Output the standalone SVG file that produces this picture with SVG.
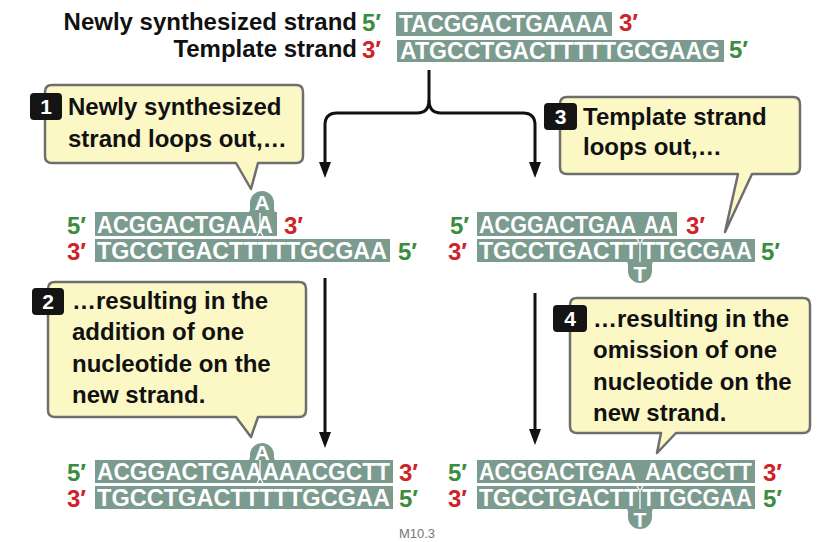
<svg xmlns="http://www.w3.org/2000/svg" width="824" height="542" viewBox="0 0 824 542">
<defs>
<style>
text{font-family:"Liberation Sans",Arial,sans-serif;font-weight:bold}
.lbl{font-size:24px;fill:#111}
.dna{font-size:24px;fill:#fff}
.loop{font-size:21px;fill:#fff;text-anchor:middle}
.r{font-size:24px;fill:#cf2329}
.g{font-size:24px;fill:#3a8d3c}
.box{fill:#7b9b8e}
.call{fill:#fcf8c6;stroke:#6e6e6e;stroke-width:2.5;stroke-linejoin:round}
.badge{fill:#141414}
.num{font-size:21px;fill:#fff;text-anchor:middle}
.arr{stroke:#111;stroke-width:3;fill:none;stroke-linejoin:round}
.dv{stroke:#fff;stroke-width:1.3;fill:none}
.foot{font-family:"Liberation Sans",Arial,sans-serif;font-weight:normal;font-size:13px;fill:#777}
</style>
<marker id="ah" viewBox="0 0 16 12" refX="4" refY="6" markerWidth="16" markerHeight="12" markerUnits="userSpaceOnUse" orient="auto">
<path d="M0,0 L16,6 L0,12 Z" fill="#111"/>
</marker>
</defs>

<g id="original">
<text class="lbl" x="357" y="30" text-anchor="end">Newly synthesized strand</text>
<text class="g" x="362" y="31">5′</text>
<rect class="box" x="396" y="12" width="216" height="24"/>
<text class="dna" x="399" y="32" textLength="209" lengthAdjust="spacingAndGlyphs">TACGGACTGAAAA</text>
<text class="r" x="619" y="31">3′</text>
<text class="lbl" x="357" y="57" text-anchor="end">Template strand</text>
<text class="r" x="362" y="58">3′</text>
<rect class="box" x="397" y="40" width="327" height="22"/>
<text class="dna" x="400" y="59" textLength="320" lengthAdjust="spacingAndGlyphs">ATGCCTGACTTTTTGCGAAG</text>
<text class="g" x="729" y="58">5′</text>
</g>

<g id="connectors">
<path class="arr" d="M429,70 V100 Q429,113 417,113 H337 Q325,113 325,125 V166" marker-end="url(#ah)"/>
<path class="arr" d="M429,100 Q429,113 441,113 H523 Q535,113 535,125 V166" marker-end="url(#ah)"/>
<path class="arr" d="M325,278 V436" marker-end="url(#ah)"/>
<path class="arr" d="M535,293 V433" marker-end="url(#ah)"/>
</g>

<g id="callout1">
<path class="call" d="M52,85 H296 Q303,85 303,92 V156 Q303,163 296,163 H258 L251,189 L236,163 H52 Q45,163 45,156 V92 Q45,85 52,85 Z"/>
<rect class="badge" x="30" y="93" width="32" height="27" rx="4"/>
<text class="num" x="46" y="114">1</text>
<text class="lbl" x="68" y="115">Newly synthesized</text>
<text class="lbl" x="68" y="147">strand loops out,…</text>
</g>

<g id="callout3">
<path class="call" d="M567,97 H793 Q800,97 800,104 V167 Q800,174 793,174 H752 L725,232 L738,174 H567 Q560,174 560,167 V104 Q560,97 567,97 Z"/>
<rect class="badge" x="544" y="103" width="33" height="27" rx="4"/>
<text class="num" x="560.5" y="124">3</text>
<text class="lbl" x="583" y="125">Template strand</text>
<text class="lbl" x="583" y="155">loops out,…</text>
</g>

<g id="callout2">
<path class="call" d="M55,282 H299 Q306,282 306,289 V410 Q306,417 299,417 H258 L251,437 L236,417 H55 Q48,417 48,410 V289 Q48,282 55,282 Z"/>
<rect class="badge" x="32" y="288" width="32" height="27" rx="4"/>
<text class="num" x="48" y="309">2</text>
<text class="lbl" x="72" y="309">…resulting in the</text>
<text class="lbl" x="72" y="340">addition of one</text>
<text class="lbl" x="72" y="372">nucleotide on the</text>
<text class="lbl" x="72" y="403">new strand.</text>
</g>

<g id="callout4">
<path class="call" d="M577,298 H803 Q810,298 810,305 V426 Q810,433 803,433 H676 L657,453 L661,433 H577 Q570,433 570,426 V305 Q570,298 577,298 Z"/>
<rect class="badge" x="553" y="305" width="34" height="27" rx="4"/>
<text class="num" x="570" y="326">4</text>
<text class="lbl" x="593" y="327">…resulting in the</text>
<text class="lbl" x="593" y="358">omission of one</text>
<text class="lbl" x="593" y="390">nucleotide on the</text>
<text class="lbl" x="593" y="421">new strand.</text>
</g>

<g id="loopA">
<text class="g" x="67" y="234">5′</text>
<rect class="box" x="95" y="212" width="182" height="24"/>
<path class="box" d="M246,213 Q250,213 250,209 V203 A12,12 0 0 1 274,203 V209 Q274,213 278,213 Z"/>
<text class="loop" x="262" y="210">A</text>
<text class="dna" x="97" y="233" textLength="176" lengthAdjust="spacingAndGlyphs">ACGGACTGAAA</text>
<path class="dv" d="M260,213 V231 M257,236 L260,231 L263,236"/>
<text class="r" x="284" y="234">3′</text>
<text class="r" x="67" y="260">3′</text>
<rect class="box" x="95" y="239" width="295" height="23"/>
<text class="dna" x="97" y="259" textLength="290" lengthAdjust="spacingAndGlyphs">TGCCTGACTTTTTGCGAA</text>
<text class="g" x="398" y="260">5′</text>
</g>

<g id="loopT">
<text class="g" x="450" y="234">5′</text>
<rect class="box" x="477" y="212" width="200" height="24"/>
<text class="dna" x="479" y="233" textLength="157" lengthAdjust="spacingAndGlyphs">ACGGACTGAA</text>
<text class="dna" x="644" y="233" textLength="29" lengthAdjust="spacingAndGlyphs">AA</text>
<text class="r" x="686" y="234">3′</text>
<text class="r" x="448" y="260">3′</text>
<rect class="box" x="477" y="239" width="278" height="23"/>
<path class="box" d="M624,261 Q628,261 628,265 V271 A12,12 0 0 0 652,271 V265 Q652,261 656,261 Z"/>
<text class="loop" x="640" y="281">T</text>
<text class="dna" x="479" y="259" textLength="159" lengthAdjust="spacingAndGlyphs">TGCCTGACTT</text>
<text class="dna" x="642" y="259" textLength="110" lengthAdjust="spacingAndGlyphs">TTGCGAA</text>
<path class="dv" d="M640,262 V244 M637,239 L640,244 L643,239"/>
<text class="g" x="761" y="260">5′</text>
</g>

<g id="addition">
<text class="g" x="67" y="481">5′</text>
<rect class="box" x="95" y="460" width="298" height="23"/>
<path class="box" d="M246,461 Q250,461 250,457 V455 A12,12 0 0 1 274,455 V457 Q274,461 278,461 Z"/>
<text class="loop" x="262" y="460">A</text>
<text class="dna" x="97" y="480" textLength="293" lengthAdjust="spacingAndGlyphs">ACGGACTGAAAAACGCTT</text>
<path class="dv" d="M260,460 V478 M257,483 L260,478 L263,483"/>
<text class="r" x="399" y="481">3′</text>
<text class="r" x="67" y="507">3′</text>
<rect class="box" x="95" y="486" width="298" height="23"/>
<text class="dna" x="97" y="506" textLength="293" lengthAdjust="spacingAndGlyphs">TGCCTGACTTTTTGCGAA</text>
<text class="g" x="399" y="507">5′</text>
</g>

<g id="omission">
<text class="g" x="448" y="481">5′</text>
<rect class="box" x="477" y="460" width="278" height="23"/>
<text class="dna" x="479" y="480" textLength="157" lengthAdjust="spacingAndGlyphs">ACGGACTGAA</text>
<text class="dna" x="645" y="480" textLength="107" lengthAdjust="spacingAndGlyphs">AACGCTT</text>
<text class="r" x="763" y="481">3′</text>
<text class="r" x="448" y="507">3′</text>
<rect class="box" x="477" y="486" width="278" height="23"/>
<path class="box" d="M624,508 Q628,508 628,512 V517 A12,12 0 0 0 652,517 V512 Q652,508 656,508 Z"/>
<text class="loop" x="640" y="527">T</text>
<text class="dna" x="479" y="506" textLength="159" lengthAdjust="spacingAndGlyphs">TGCCTGACTT</text>
<text class="dna" x="642" y="506" textLength="110" lengthAdjust="spacingAndGlyphs">TTGCGAA</text>
<path class="dv" d="M640,509 V491 M637,486 L640,491 L643,486"/>
<text class="g" x="763" y="507">5′</text>
</g>

<text class="foot" x="417" y="538" text-anchor="middle">M10.3</text>
</svg>
